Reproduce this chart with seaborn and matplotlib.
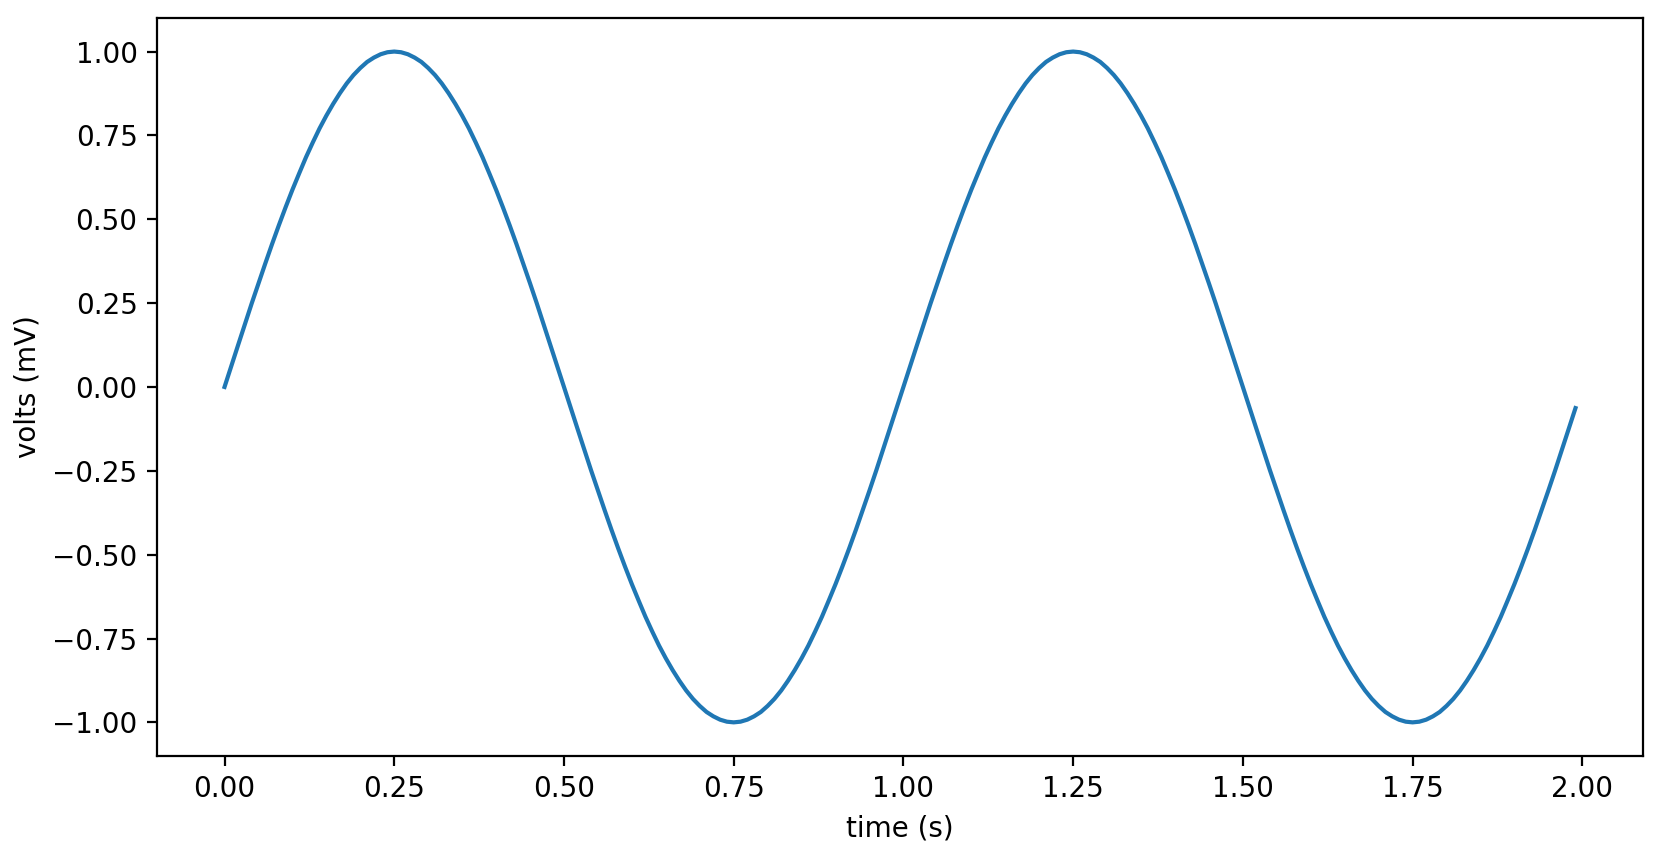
# Sine-like voltage trace, redrawn with seaborn
import numpy as np
import pandas as pd
import seaborn as sns
import matplotlib
matplotlib.use("Agg")
import matplotlib.pyplot as plt

# sample times (s), 0.01 s apart
time_s = np.round(np.arange(0, 2.0, 0.01), 2)

# voltage (mV), one value per sample
volts_mv = [
    0.000, 0.063, 0.125, 0.187, 0.249, 0.309, 0.368, 0.426, 0.482, 0.536,
    0.588, 0.637, 0.685, 0.729, 0.771, 0.809, 0.844, 0.876, 0.905, 0.930,
    0.951, 0.969, 0.982, 0.992, 0.998, 1.000, 0.998, 0.992, 0.982, 0.969,
    0.951, 0.930, 0.905, 0.876, 0.844, 0.809, 0.771, 0.729, 0.685, 0.637,
    0.588, 0.536, 0.482, 0.426, 0.368, 0.309, 0.249, 0.187, 0.125, 0.063,
    0.000, -0.063, -0.125, -0.187, -0.249, -0.309, -0.368, -0.426, -0.482, -0.536,
    -0.588, -0.637, -0.685, -0.729, -0.771, -0.809, -0.844, -0.876, -0.905, -0.930,
    -0.951, -0.969, -0.982, -0.992, -0.998, -1.000, -0.998, -0.992, -0.982, -0.969,
    -0.951, -0.930, -0.905, -0.876, -0.844, -0.809, -0.771, -0.729, -0.685, -0.637,
    -0.588, -0.536, -0.482, -0.426, -0.368, -0.309, -0.249, -0.187, -0.125, -0.063,
    0.000, 0.063, 0.125, 0.187, 0.249, 0.309, 0.368, 0.426, 0.482, 0.536,
    0.588, 0.637, 0.685, 0.729, 0.771, 0.809, 0.844, 0.876, 0.905, 0.930,
    0.951, 0.969, 0.982, 0.992, 0.998, 1.000, 0.998, 0.992, 0.982, 0.969,
    0.951, 0.930, 0.905, 0.876, 0.844, 0.809, 0.771, 0.729, 0.685, 0.637,
    0.588, 0.536, 0.482, 0.426, 0.368, 0.309, 0.249, 0.187, 0.125, 0.063,
    0.000, -0.063, -0.125, -0.187, -0.249, -0.309, -0.368, -0.426, -0.482, -0.536,
    -0.588, -0.637, -0.685, -0.729, -0.771, -0.809, -0.844, -0.876, -0.905, -0.930,
    -0.951, -0.969, -0.982, -0.992, -0.998, -1.000, -0.998, -0.992, -0.982, -0.969,
    -0.951, -0.930, -0.905, -0.876, -0.844, -0.809, -0.771, -0.729, -0.685, -0.637,
    -0.588, -0.536, -0.482, -0.426, -0.368, -0.309, -0.249, -0.187, -0.125, -0.063,
]

df = pd.DataFrame({"time": time_s, "volts": volts_mv})

fig, ax = plt.subplots(figsize=(16.63 / 2, 8.58 / 2), dpi=200)
sns.lineplot(data=df, x="time", y="volts", ax=ax, color="#1f77b4", linewidth=1.5)

ax.set_xlabel("time (s)")
ax.set_ylabel("volts (mV)")
ax.set_xticks(np.arange(0, 2.01, 0.25))
ax.set_yticks(np.arange(-1.0, 1.01, 0.25))
ax.xaxis.set_major_formatter(matplotlib.ticker.FormatStrFormatter("%.2f"))
ax.yaxis.set_major_formatter(matplotlib.ticker.FormatStrFormatter("%.2f"))
ax.yaxis.set_major_formatter(
    matplotlib.ticker.FuncFormatter(lambda v, p: f"{v:.2f}".replace("-", "\u2212"))
)

plt.subplots_adjust(left=0.0944, right=0.988, top=0.979, bottom=0.119)
plt.savefig("out.png", dpi=200)
